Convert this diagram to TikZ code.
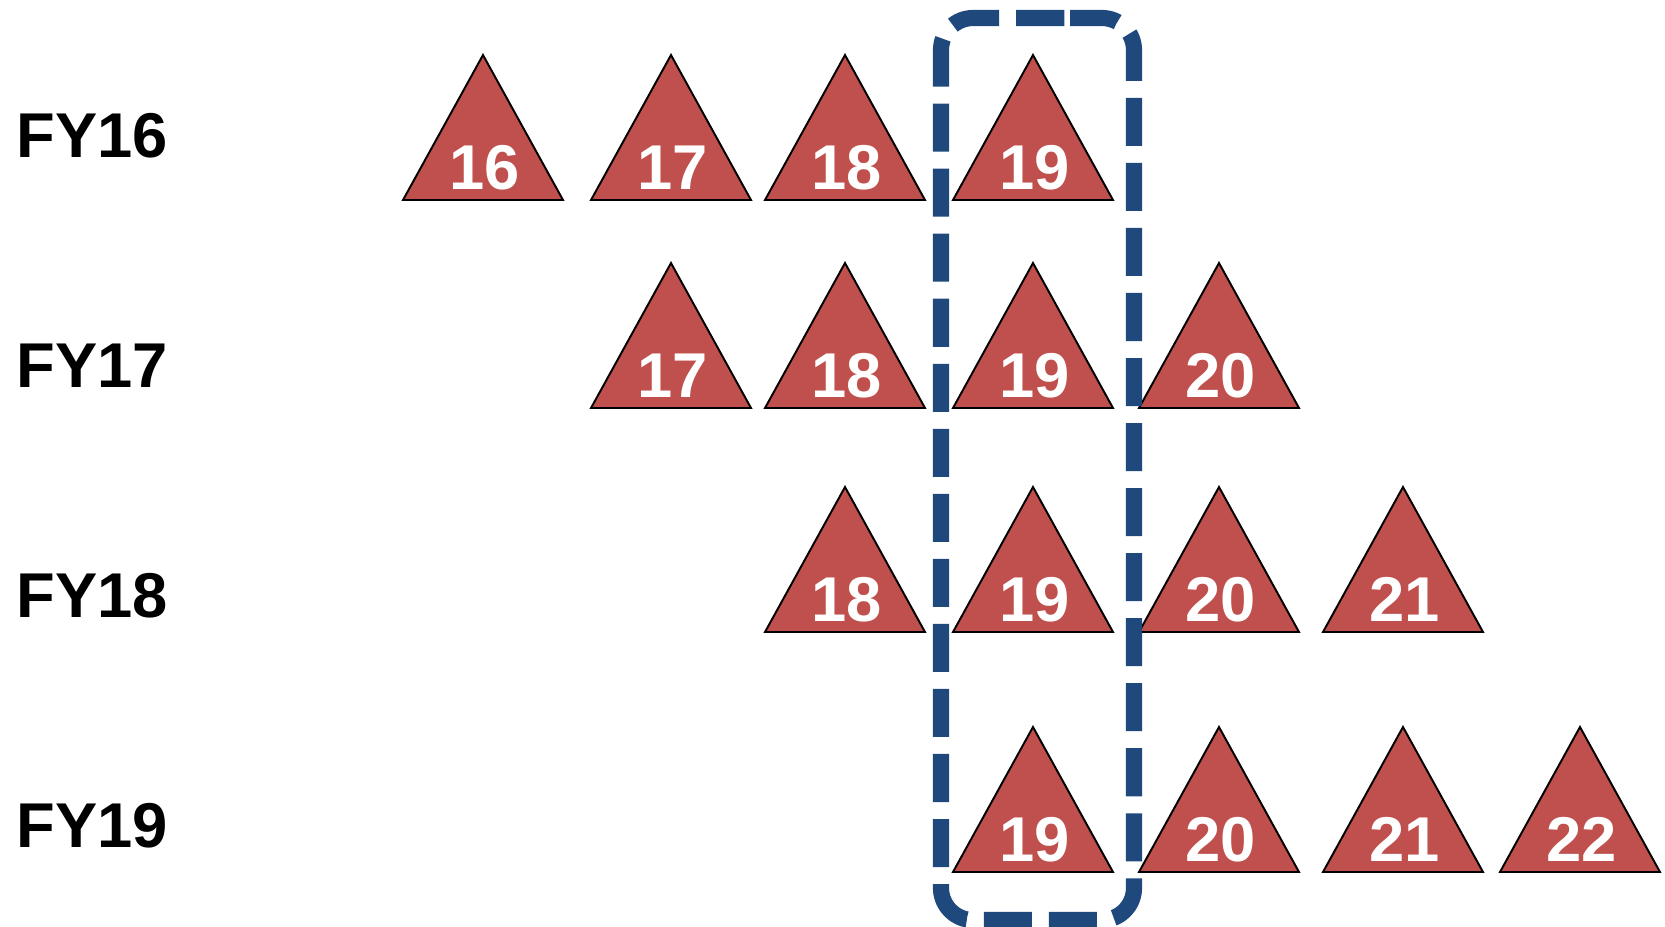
\documentclass[tikz,border=0pt]{standalone}
\usepackage{fontspec}
\setmainfont{Liberation Sans}
\usepackage{tikz}
\usetikzlibrary{positioning}
\definecolor{tri-red}{HTML}{C0504D}
\definecolor{box-blue}{HTML}{1F497D}

\tikzset{
    tri/.style={fill=tri-red, draw=black, line width=0.55pt, line join=miter},
    num/.style={text=white, font=\bfseries\fontsize{18}{22}\selectfont, inner sep=0pt, anchor=base},
    year/.style={font=\bfseries\fontsize{18}{22}\selectfont, inner sep=0pt, anchor=base west},
    selbox/.style={draw=box-blue, line width=4.6pt, rounded corners=0.32cm, dash pattern=on 0.48cm off 0.17cm}
}

\begin{document}
\begin{tikzpicture}[x=0.01cm, y=-0.01cm]
    \useasboundingbox (0,0) rectangle (1665,926);
    % year labels
    \node[year] (fy16) at (16,157) {FY16};
    \node[year] (fy17) at (16,387) {FY17};
    \node[year] (fy18) at (16,617) {FY18};
    \node[year] (fy19) at (16,847) {FY19};
    % triangles, one row per year
    \foreach \r/\yb/\list in {a/200/{483/16,671/17,845/18,1033/19},
                              b/408/{671/17,845/18,1033/19,1219/20},
                              c/632/{845/18,1033/19,1219/20,1403/21},
                              d/872/{1033/19,1219/20,1403/21,1580/22}} {
        \foreach \x/\n in \list {
            \draw[tri] (\x-80,\yb) -- (\x,\yb-145) -- (\x+80,\yb) -- cycle;
            \node[num] (t\r\n) at (\x+2,\yb-11) {\n};
        }
    }
    % FY19 column
    \draw[selbox] (1038,18) -- (1134,18) -- (1134,920) -- (941,920) -- (941,18) -- cycle;
\end{tikzpicture}
\end{document}
